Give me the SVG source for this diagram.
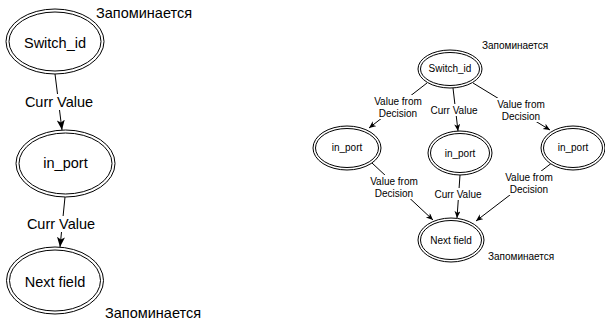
<svg xmlns="http://www.w3.org/2000/svg" width="605" height="323" viewBox="0 0 605 323">
  <style>
    .ring { fill: #ffffff; stroke: #000000; stroke-width: 1; }
    .big { font-family: "Liberation Sans", Arial, sans-serif; font-size: 14.5px; fill: #000000; }
    .small { font-family: "Liberation Sans", Arial, sans-serif; font-size: 10px; fill: #000000; }
    .mid { text-anchor: middle; dominant-baseline: central; }
    .edge { stroke: #000000; stroke-width: 1; fill: none; }
    .lbl-bg { fill: #ffffff; }
  </style>
  <defs>
    <marker id="arrowBig" markerUnits="userSpaceOnUse" markerWidth="12" markerHeight="10" refX="10" refY="4" orient="auto">
      <path d="M0,0 L10,4 L0,8 L2.5,4 Z" fill="#000000"/>
    </marker>
    <marker id="arrowSmall" markerUnits="userSpaceOnUse" markerWidth="9" markerHeight="8" refX="7" refY="3" orient="auto">
      <path d="M0,0 L7,3 L0,6 L2,3 Z" fill="#000000"/>
    </marker>
  </defs>

  <rect width="605" height="323" fill="#ffffff"/>

  <!-- connectors -->
  <g id="connectors">
    <!-- left chain -->
    <line class="edge" x1="55" y1="74" x2="62" y2="130" marker-end="url(#arrowBig)"/>
    <rect class="lbl-bg" x="24" y="94" width="70" height="16"/>
    <text class="big mid" x="59" y="102">Curr Value</text>

    <line class="edge" x1="65" y1="197" x2="60" y2="247" marker-end="url(#arrowBig)"/>
    <rect class="lbl-bg" x="26" y="216" width="70" height="16"/>
    <text class="big mid" x="61" y="224">Curr Value</text>

    <!-- right tree: top level -->
    <line class="edge" x1="427" y1="83" x2="369" y2="128" marker-end="url(#arrowSmall)"/>
    <rect class="lbl-bg" x="374" y="95" width="49" height="24"/>
    <text class="small mid" x="398" y="101">Value from</text>
    <text class="small mid" x="398" y="113">Decision</text>

    <line class="edge" x1="453" y1="88" x2="458" y2="131" marker-end="url(#arrowSmall)"/>
    <rect class="lbl-bg" x="429" y="104" width="50" height="12"/>
    <text class="small mid" x="454" y="110">Curr Value</text>

    <line class="edge" x1="473" y1="83" x2="550" y2="130" marker-end="url(#arrowSmall)"/>
    <rect class="lbl-bg" x="497" y="98" width="49" height="24"/>
    <text class="small mid" x="521" y="104">Value from</text>
    <text class="small mid" x="521" y="116">Decision</text>

    <!-- right tree: bottom level -->
    <line class="edge" x1="372" y1="163" x2="433" y2="220" marker-end="url(#arrowSmall)"/>
    <rect class="lbl-bg" x="370" y="175" width="49" height="24"/>
    <text class="small mid" x="394" y="181">Value from</text>
    <text class="small mid" x="394" y="193">Decision</text>

    <line class="edge" x1="460" y1="175" x2="457" y2="218" marker-end="url(#arrowSmall)"/>
    <rect class="lbl-bg" x="433" y="188" width="50" height="12"/>
    <text class="small mid" x="458" y="194">Curr Value</text>

    <line class="edge" x1="553" y1="162" x2="476" y2="221" marker-end="url(#arrowSmall)"/>
    <rect class="lbl-bg" x="505" y="171" width="49" height="24"/>
    <text class="small mid" x="529" y="177">Value from</text>
    <text class="small mid" x="529" y="189">Decision</text>
  </g>

  <!-- left chain nodes -->
  <g id="switch-id-left">
    <ellipse class="ring" cx="55" cy="41.5" rx="49" ry="32.5"/>
    <ellipse class="ring" cx="55" cy="41.5" rx="46" ry="29.5"/>
    <text class="big mid" x="55" y="43">Switch_id</text>
  </g>
  <g id="in-port-left">
    <ellipse class="ring" cx="65.5" cy="163.5" rx="49.5" ry="33.5"/>
    <ellipse class="ring" cx="65.5" cy="163.5" rx="46.5" ry="30.5"/>
    <text class="big mid" x="65.5" y="163">in_port</text>
  </g>
  <g id="next-field-left">
    <ellipse class="ring" cx="55" cy="280.5" rx="48.5" ry="33.5"/>
    <ellipse class="ring" cx="55" cy="280.5" rx="45.5" ry="30.5"/>
    <text class="big mid" x="55" y="282">Next field</text>
  </g>
  <g id="note-left-top">
    <text class="big" x="96" y="18">Запоминается</text>
  </g>
  <g id="note-left-bottom">
    <text class="big" x="105" y="318">Запоминается</text>
  </g>

  <!-- right tree nodes -->
  <g id="switch-id-right">
    <ellipse class="ring" cx="450" cy="69" rx="32" ry="19"/>
    <ellipse class="ring" cx="450" cy="69" rx="29.5" ry="16.5"/>
    <text class="small mid" x="450" y="68">Switch_id</text>
  </g>
  <g id="in-port-a">
    <ellipse class="ring" cx="347" cy="148" rx="34" ry="22"/>
    <ellipse class="ring" cx="347" cy="148" rx="31.5" ry="19.5"/>
    <text class="small mid" x="347" y="147">in_port</text>
  </g>
  <g id="in-port-b">
    <ellipse class="ring" cx="460" cy="153" rx="32" ry="22"/>
    <ellipse class="ring" cx="460" cy="153" rx="29.5" ry="19.5"/>
    <text class="small mid" x="460" y="153">in_port</text>
  </g>
  <g id="in-port-c">
    <ellipse class="ring" cx="573" cy="148" rx="32" ry="22"/>
    <ellipse class="ring" cx="573" cy="148" rx="29.5" ry="19.5"/>
    <text class="small mid" x="573" y="147">in_port</text>
  </g>
  <g id="next-field-right">
    <ellipse class="ring" cx="451" cy="240" rx="33" ry="22"/>
    <ellipse class="ring" cx="451" cy="240" rx="30.5" ry="19.5"/>
    <text class="small mid" x="451" y="240">Next field</text>
  </g>
  <g id="note-right-top">
    <text class="small" x="482" y="49">Запоминается</text>
  </g>
  <g id="note-right-bottom">
    <text class="small" x="488" y="260">Запоминается</text>
  </g>
</svg>
